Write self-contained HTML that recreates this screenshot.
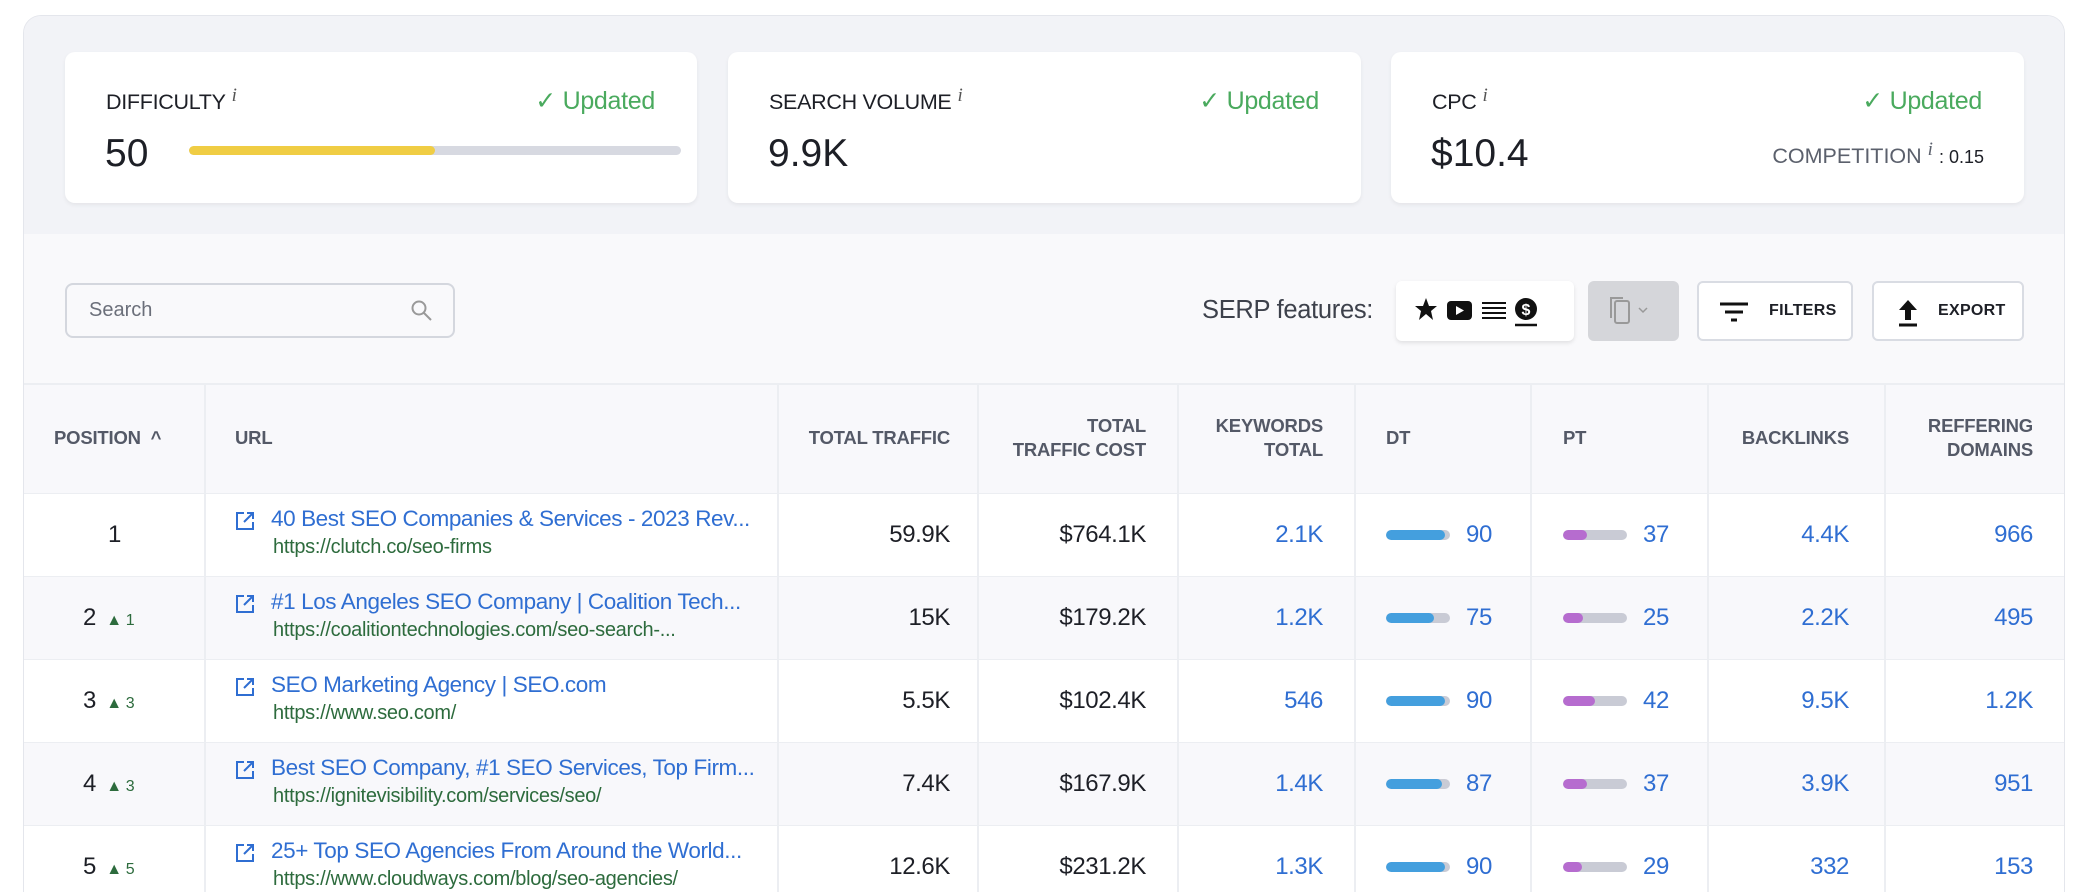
<!DOCTYPE html>
<html style="height:892px;overflow:hidden"><head><meta charset="utf-8"><style>
*{box-sizing:border-box;margin:0;padding:0}
body{width:2088px;height:892px;background:#fff;font-family:"Liberation Sans",sans-serif;position:relative;overflow:hidden;color:#1d1f26}
.a{position:absolute}
.panel{left:23px;top:15px;width:2042px;height:877px;background:#f9f9fb;border:1.5px solid #e4e6ec;border-bottom:none;border-radius:18px 18px 0 0;overflow:hidden}
.top{left:0;top:0;width:2042px;height:218px;background:#f2f3f7}
.card{background:#fff;border-radius:10px;box-shadow:0 2px 4px rgba(0,0,0,.06);top:36px;height:151px}
.lbl{font-size:21.5px;color:#1d1f26;letter-spacing:-.3px}
.lbl i{font-family:"Liberation Serif",serif;font-size:19px;color:#555;position:relative;top:-8px;margin-left:6px}
.upd{font-size:25px;color:#4aaa5e;letter-spacing:-.3px}
.big{font-size:39px;color:#1d1f26}
.th{font-size:18.5px;font-weight:bold;color:#545967;line-height:24px;letter-spacing:-.2px}
.r{text-align:right}
.vline{width:1.5px;background:#eceef2}
.row{left:0;width:2042px;height:83px;border-top:1.5px solid #eceef2}
.t{font-size:22.5px;color:#2f6ed2;white-space:nowrap;letter-spacing:-.4px}
.u{font-size:20px;color:#2d6b3d;white-space:nowrap;letter-spacing:-.3px}
.n{font-size:24px;color:#1d1f26;letter-spacing:-.4px}
.b{font-size:24px;color:#2f6ed2;letter-spacing:-.4px}
.bar{height:10px;width:64px;border-radius:5px;background:#c9cbd5;overflow:hidden}
.bar div{height:10px;border-radius:5px}
.btn{background:#fff;border:2px solid #d9dce3;border-radius:6px;height:60px;top:265px}
.btn span{font-size:16px;font-weight:bold;color:#1d1f26;position:absolute;top:19px;letter-spacing:.3px}
.up{font-size:16px;color:#2d6b3d}
</style></head><body>
<div class="a panel">
 <div class="a top"></div>
 <div class="a card" style="left:41px;width:632px">
  <div class="a lbl" style="left:41px;top:38px">DIFFICULTY<i>i</i></div>
  <div class="a upd" style="right:42px;top:34px">✓ Updated</div>
  <div class="a big" style="left:40px;top:80px">50</div>
  <div class="a" style="left:124px;top:94px;width:492px;height:9px;border-radius:5px;background:#d7d9e1;overflow:hidden"><div style="width:246px;height:9px;background:#f0cd44;border-radius:5px"></div></div>
 </div>
 <div class="a card" style="left:704px;width:633px">
  <div class="a lbl" style="left:41px;top:38px">SEARCH VOLUME<i>i</i></div>
  <div class="a upd" style="right:42px;top:34px">✓ Updated</div>
  <div class="a big" style="left:40px;top:80px">9.9K</div>
 </div>
 <div class="a card" style="left:1367px;width:633px">
  <div class="a lbl" style="left:41px;top:38px">CPC<i>i</i></div>
  <div class="a upd" style="right:42px;top:34px">✓ Updated</div>
  <div class="a big" style="left:40px;top:80px">$10.4</div>
  <div class="a" style="right:40px;top:92px;font-size:21.5px;color:#5b606c">COMPETITION<i style="font-family:'Liberation Serif',serif;font-size:19px;position:relative;top:-8px;margin:0 6px">i</i><span style="color:#1d1f26;font-size:18px">: 0.15</span></div>
 </div>
 <div class="a" style="left:41px;top:267px;width:390px;height:55px;border:2px solid #d4d7de;border-radius:8px;background:#f9f9fb">
  <div class="a" style="left:22px;top:14px;font-size:20px;color:#6b6f7a">Search</div>
  <svg class="a" style="left:343px;top:14px" width="24" height="24" viewBox="0 0 24 24"><circle cx="9" cy="9" r="6.5" fill="none" stroke="#999" stroke-width="2"/><line x1="14" y1="14" x2="21" y2="21" stroke="#999" stroke-width="2"/></svg>
 </div>
 <div class="a" style="left:1178px;top:280px;font-size:25.5px;color:#3d414b;letter-spacing:-.3px">SERP features:</div>
 <div class="a" style="left:1372px;top:265px;width:178px;height:60px;background:#fff;border-radius:6px;box-shadow:0 2px 4px rgba(0,0,0,.1)">
  <svg class="a" style="left:18px;top:14px" width="140" height="32" viewBox="0 0 140 32">
   <polygon points="12,3 15,11 23,11 17,16 19,25 12,19 5,25 7,16 1,11 9,11" fill="#111"/>
   <rect x="33" y="6" width="25" height="19" rx="4" fill="#111"/><polygon points="42,11 50,15.5 42,20" fill="#fff"/>
   <g stroke="#111" stroke-width="2"><line x1="68" y1="8" x2="92" y2="8"/><line x1="68" y1="13" x2="92" y2="13"/><line x1="68" y1="18" x2="92" y2="18"/><line x1="68" y1="23" x2="92" y2="23"/></g>
   <circle cx="112" cy="14" r="11" fill="#111"/><text x="112" y="20" font-size="16" font-weight="bold" fill="#fff" text-anchor="middle" font-family="Liberation Sans">$</text><line x1="101" y1="30" x2="123" y2="30" stroke="#111" stroke-width="2.5"/>
  </svg>
 </div>
 <div class="a" style="left:1564px;top:265px;width:91px;height:60px;background:#d5d6da;border-radius:6px">
  <svg class="a" style="left:20px;top:15px" width="50" height="30" viewBox="0 0 50 30"><rect x="7" y="5" width="14" height="22" rx="2" fill="none" stroke="#999" stroke-width="2"/><path d="M3 22V2h12" fill="none" stroke="#999" stroke-width="2"/><path d="M31 12l4 4 4-4" fill="none" stroke="#999" stroke-width="1.5"/></svg>
 </div>
 <div class="a btn" style="left:1673px;width:156px">
  <svg class="a" style="left:20px;top:18px" width="30" height="24" viewBox="0 0 30 24"><g stroke="#111" stroke-width="3"><line x1="1" y1="3" x2="29" y2="3"/><line x1="6" y1="11" x2="24" y2="11"/><line x1="12" y1="19" x2="18" y2="19"/></g></svg>
  <span style="left:70px">FILTERS</span>
 </div>
 <div class="a btn" style="left:1848px;width:152px">
  <svg class="a" style="left:22px;top:16px" width="24" height="28" viewBox="0 0 24 28"><polygon points="12,1 21,11 15,11 15,21 9,21 9,11 3,11" fill="#111"/><line x1="3" y1="26" x2="21" y2="26" stroke="#111" stroke-width="3"/></svg>
  <span style="left:64px">EXPORT</span>
 </div>
 <div class="a" style="left:0;top:367px;width:2042px;height:110px;background:#f8f8fb;border-top:2px solid #eceef2"></div>
 <div class="a th" style="left:30px;top:410px">POSITION &nbsp;^</div>
 <div class="a th" style="left:211px;top:410px">URL</div>
 <div class="a th r" style="right:1114px;top:410px">TOTAL TRAFFIC</div>
 <div class="a th r" style="right:918px;top:398px">TOTAL<br>TRAFFIC COST</div>
 <div class="a th r" style="right:741px;top:398px">KEYWORDS<br>TOTAL</div>
 <div class="a th" style="left:1362px;top:410px">DT</div>
 <div class="a th" style="left:1539px;top:410px">PT</div>
 <div class="a th r" style="right:215px;top:410px">BACKLINKS</div>
 <div class="a th r" style="right:31px;top:398px">REFFERING<br>DOMAINS</div>

 <div class="a row" style="top:477px;background:#fff"></div>
 <div class="a row" style="top:560px;background:#f8f8fb"></div>
 <div class="a row" style="top:643px;background:#fff"></div>
 <div class="a row" style="top:726px;background:#f8f8fb"></div>
 <div class="a row" style="top:809px;background:#fff"></div>

 <div class="a vline" style="left:180px;top:367px;height:520px"></div>
 <div class="a vline" style="left:753px;top:367px;height:520px"></div>
 <div class="a vline" style="left:953px;top:367px;height:520px"></div>
 <div class="a vline" style="left:1153px;top:367px;height:520px"></div>
 <div class="a vline" style="left:1330px;top:367px;height:520px"></div>
 <div class="a vline" style="left:1506px;top:367px;height:520px"></div>
 <div class="a vline" style="left:1683px;top:367px;height:520px"></div>
 <div class="a vline" style="left:1860px;top:367px;height:520px"></div>

 <div class="a n" style="left:84px;top:505px">1</div>
 <div class="a n" style="left:59px;top:588px">2 <span class="up">&nbsp;▲ 1</span></div>
 <div class="a n" style="left:59px;top:671px">3 <span class="up">&nbsp;▲ 3</span></div>
 <div class="a n" style="left:59px;top:754px">4 <span class="up">&nbsp;▲ 3</span></div>
 <div class="a n" style="left:59px;top:837px">5 <span class="up">&nbsp;▲ 5</span></div>

 <svg class="a" style="left:211px;top:495px" width="20" height="20" viewBox="0 0 20 20"><path d="M9 2H2v16h16v-7M12 2h6v6M18 2l-9 9" fill="none" stroke="#2f6ed2" stroke-width="2"/></svg>
 <svg class="a" style="left:211px;top:578px" width="20" height="20" viewBox="0 0 20 20"><path d="M9 2H2v16h16v-7M12 2h6v6M18 2l-9 9" fill="none" stroke="#2f6ed2" stroke-width="2"/></svg>
 <svg class="a" style="left:211px;top:661px" width="20" height="20" viewBox="0 0 20 20"><path d="M9 2H2v16h16v-7M12 2h6v6M18 2l-9 9" fill="none" stroke="#2f6ed2" stroke-width="2"/></svg>
 <svg class="a" style="left:211px;top:744px" width="20" height="20" viewBox="0 0 20 20"><path d="M9 2H2v16h16v-7M12 2h6v6M18 2l-9 9" fill="none" stroke="#2f6ed2" stroke-width="2"/></svg>
 <svg class="a" style="left:211px;top:827px" width="20" height="20" viewBox="0 0 20 20"><path d="M9 2H2v16h16v-7M12 2h6v6M18 2l-9 9" fill="none" stroke="#2f6ed2" stroke-width="2"/></svg>

 <div class="a t" style="left:247px;top:490px">40 Best SEO Companies &amp; Services - 2023 Rev...</div>
 <div class="a u" style="left:249px;top:520px">https://clutch.co/seo-firms</div>
 <div class="a t" style="left:247px;top:573px">#1 Los Angeles SEO Company | Coalition Tech...</div>
 <div class="a u" style="left:249px;top:603px">https://coalitiontechnologies.com/seo-search-...</div>
 <div class="a t" style="left:247px;top:656px">SEO Marketing Agency | SEO.com</div>
 <div class="a u" style="left:249px;top:686px">https://www.seo.com/</div>
 <div class="a t" style="left:247px;top:739px">Best SEO Company, #1 SEO Services, Top Firm...</div>
 <div class="a u" style="left:249px;top:769px">https://ignitevisibility.com/services/seo/</div>
 <div class="a t" style="left:247px;top:822px">25+ Top SEO Agencies From Around the World...</div>
 <div class="a u" style="left:249px;top:852px">https://www.cloudways.com/blog/seo-agencies/</div>

 <div class="a n r" style="right:1114px;top:505px">59.9K</div>
 <div class="a n r" style="right:1114px;top:588px">15K</div>
 <div class="a n r" style="right:1114px;top:671px">5.5K</div>
 <div class="a n r" style="right:1114px;top:754px">7.4K</div>
 <div class="a n r" style="right:1114px;top:837px">12.6K</div>

 <div class="a n r" style="right:918px;top:505px">$764.1K</div>
 <div class="a n r" style="right:918px;top:588px">$179.2K</div>
 <div class="a n r" style="right:918px;top:671px">$102.4K</div>
 <div class="a n r" style="right:918px;top:754px">$167.9K</div>
 <div class="a n r" style="right:918px;top:837px">$231.2K</div>

 <div class="a b r" style="right:741px;top:505px">2.1K</div>
 <div class="a b r" style="right:741px;top:588px">1.2K</div>
 <div class="a b r" style="right:741px;top:671px">546</div>
 <div class="a b r" style="right:741px;top:754px">1.4K</div>
 <div class="a b r" style="right:741px;top:837px">1.3K</div>

 <div class="a bar" style="left:1362px;top:514px"><div style="width:59px;background:#449fde"></div></div>
 <div class="a bar" style="left:1362px;top:597px"><div style="width:48px;background:#449fde"></div></div>
 <div class="a bar" style="left:1362px;top:680px"><div style="width:59px;background:#449fde"></div></div>
 <div class="a bar" style="left:1362px;top:763px"><div style="width:56px;background:#449fde"></div></div>
 <div class="a bar" style="left:1362px;top:846px"><div style="width:59px;background:#449fde"></div></div>
 <div class="a b" style="left:1442px;top:505px">90</div>
 <div class="a b" style="left:1442px;top:588px">75</div>
 <div class="a b" style="left:1442px;top:671px">90</div>
 <div class="a b" style="left:1442px;top:754px">87</div>
 <div class="a b" style="left:1442px;top:837px">90</div>

 <div class="a bar" style="left:1539px;top:514px"><div style="width:24px;background:#b66ccf"></div></div>
 <div class="a bar" style="left:1539px;top:597px"><div style="width:20px;background:#b66ccf"></div></div>
 <div class="a bar" style="left:1539px;top:680px"><div style="width:32px;background:#b66ccf"></div></div>
 <div class="a bar" style="left:1539px;top:763px"><div style="width:24px;background:#b66ccf"></div></div>
 <div class="a bar" style="left:1539px;top:846px"><div style="width:19px;background:#b66ccf"></div></div>
 <div class="a b" style="left:1619px;top:505px">37</div>
 <div class="a b" style="left:1619px;top:588px">25</div>
 <div class="a b" style="left:1619px;top:671px">42</div>
 <div class="a b" style="left:1619px;top:754px">37</div>
 <div class="a b" style="left:1619px;top:837px">29</div>

 <div class="a b r" style="right:215px;top:505px">4.4K</div>
 <div class="a b r" style="right:215px;top:588px">2.2K</div>
 <div class="a b r" style="right:215px;top:671px">9.5K</div>
 <div class="a b r" style="right:215px;top:754px">3.9K</div>
 <div class="a b r" style="right:215px;top:837px">332</div>

 <div class="a b r" style="right:31px;top:505px">966</div>
 <div class="a b r" style="right:31px;top:588px">495</div>
 <div class="a b r" style="right:31px;top:671px">1.2K</div>
 <div class="a b r" style="right:31px;top:754px">951</div>
 <div class="a b r" style="right:31px;top:837px">153</div>
</div>
</body></html>
